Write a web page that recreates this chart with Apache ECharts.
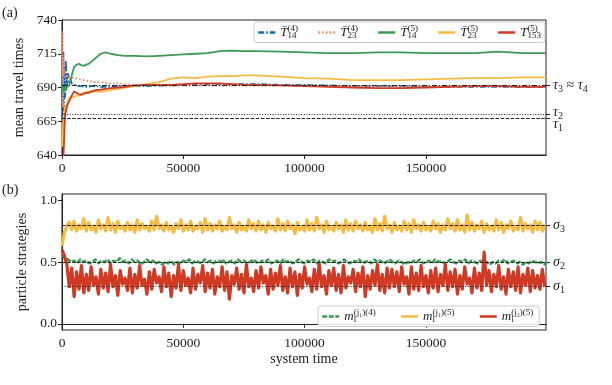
<!DOCTYPE html>
<html>
<head>
<meta charset="utf-8">
<script src="https://cdn.jsdelivr.net/npm/echarts@6.0.0/dist/echarts.min.js"></script>
<style>
  html, body { margin: 0; padding: 0; background: #fff; }
  #chart { width: 612px; height: 385px; }
</style>
</head>
<body>
<div id="chart"></div>
<script>
// (a) running mean travel times
const tTop = [0, 200, 400, 600, 800, 1000, 1300, 1600, 2000, 2500, 3000, 3500, 4000, 5000, 6000, 7000, 8000, 9000, 10000, 11000,
  12000, 14000, 16000, 18000, 20000, 23000, 26000, 30000, 35000, 40000, 45000, 50000, 55000, 60000, 65000, 70000, 75000, 80000,
  90000, 100000, 110000, 120000, 130000, 140000, 150000, 160000, 170000, 180000, 190000, 199500]
const meanB4 = [665, 712, 676, 716, 662, 705, 683, 710, 690, 700, 694, 696, 693, 692, 691.5, 691, 691, 690.5, 690.5, 690.5,
  691, 691, 690.5, 690.5, 691, 691, 691, 691, 691, 691.5, 691.5, 692, 692, 692.5, 692.5, 692.5, 692.5, 692.5, 692, 692,
  691.5, 691, 691, 691, 690.5, 690.5, 690.5, 690.5, 690.5, 690.5]
const meanC4 = [700, 731, 675, 712, 700, 703, 698, 697, 698, 697, 697, 697.5, 697, 697, 696.5, 696, 696, 695.5, 695, 695,
  694.5, 694, 694, 693.5, 693, 693, 692.5, 692, 692, 691.5, 691.5, 691.5, 691.5, 691.5, 691.5, 691.5, 691.5, 691.5, 691.5, 691.5,
  691, 691, 691, 691, 691, 691, 691, 691, 691, 691]
const meanG5 = [690, 686, 692, 688, 690, 688, 690, 688, 690, 689, 692, 695, 699, 705, 707, 707.5, 706.5, 706, 707, 707.5,
  709, 712, 715, 716, 715, 714, 713.5, 713.5, 713, 713.5, 714, 714.5, 715, 715.5, 717, 717.3, 717, 717, 716.5, 716,
  715.5, 715.5, 716, 716, 715.5, 715.5, 715.5, 716.5, 715.5, 715.5]
const meanY5 = [646, 655, 662, 668, 660, 672, 676, 672, 678, 681, 682, 683, 682, 683, 684, 684, 685, 686, 686.5, 687,
  687, 687, 687, 687.5, 688, 689, 690, 691, 692.5, 694, 696.5, 697.5, 697, 698, 698.5, 698.5, 699, 699, 698, 697,
  696.5, 695.5, 695.5, 695.5, 696, 696.5, 697, 697, 697.5, 697.5]
const meanR5 = [630, 625, 635, 640, 648, 660, 670, 672, 676, 678, 680, 682, 684, 687, 686, 685, 684.5, 685.5, 686, 686,
  687, 688, 688.5, 689, 689.5, 690, 690.5, 691.5, 692, 692, 692, 692.5, 693, 693, 693, 692.5, 692, 692, 691.5, 691,
  690.5, 690, 689.5, 689.5, 690, 690.5, 691, 691, 690.5, 690.5]
const tauLevels = [691.5, 670, 667] // tau3~tau4, tau2, tau1

// (b) particle strategies, sampled every tStepG / tStepB
const tStepG = 1250
const stratG4 = [0.56, 0.53, 0.52, 0.50, 0.51, 0.49, 0.52, 0.50, 0.51, 0.49,
  0.50, 0.52, 0.49, 0.51, 0.50, 0.52, 0.49, 0.51, 0.50, 0.53,
  0.50, 0.51, 0.49, 0.52, 0.50, 0.51, 0.48, 0.50, 0.52, 0.49,
  0.51, 0.49, 0.50, 0.48, 0.50, 0.49, 0.51, 0.48, 0.50, 0.49,
  0.51, 0.50, 0.52, 0.49, 0.51, 0.50, 0.49, 0.52, 0.50, 0.51,
  0.49, 0.51, 0.50, 0.52, 0.49, 0.50, 0.51, 0.49, 0.52, 0.50,
  0.51, 0.49, 0.50, 0.52, 0.50, 0.49, 0.51, 0.50, 0.52, 0.49,
  0.50, 0.51, 0.49, 0.52, 0.50, 0.51, 0.49, 0.50, 0.52, 0.50,
  0.49, 0.51, 0.50, 0.52, 0.49, 0.51, 0.50, 0.49, 0.52, 0.50,
  0.51, 0.49, 0.50, 0.52, 0.50, 0.49, 0.51, 0.50, 0.52, 0.49,
  0.50, 0.51, 0.49, 0.52, 0.50, 0.51, 0.49, 0.50, 0.52, 0.50,
  0.49, 0.51, 0.50, 0.48, 0.50, 0.49, 0.51, 0.50, 0.52, 0.49,
  0.50, 0.51, 0.49, 0.52, 0.50, 0.51, 0.49, 0.50, 0.52, 0.50,
  0.49, 0.51, 0.50, 0.52, 0.49, 0.51, 0.50, 0.49, 0.51, 0.49,
  0.50, 0.48, 0.50, 0.49, 0.51, 0.50, 0.52, 0.49, 0.50, 0.51,
  0.49, 0.50, 0.48, 0.50, 0.49, 0.51, 0.50, 0.49, 0.50, 0.48,
  0.50]
const tStepB = 1000
const stratY5 = [0.63, 0.74, 0.79, 0.82, 0.76, 0.83, 0.75, 0.80, 0.77, 0.85,
  0.75, 0.82, 0.76, 0.79, 0.74, 0.84, 0.77, 0.80, 0.75, 0.86,
  0.76, 0.81, 0.74, 0.83, 0.77, 0.79, 0.75, 0.82, 0.76, 0.80,
  0.74, 0.84, 0.76, 0.81, 0.77, 0.79, 0.75, 0.83, 0.76, 0.87,
  0.77, 0.80, 0.75, 0.82, 0.76, 0.79, 0.74, 0.81, 0.77, 0.84,
  0.75, 0.80, 0.76, 0.83, 0.75, 0.79, 0.77, 0.82, 0.74, 0.85,
  0.76, 0.81, 0.75, 0.80, 0.77, 0.83, 0.75, 0.79, 0.76, 0.86,
  0.77, 0.80, 0.74, 0.82, 0.76, 0.79, 0.75, 0.84, 0.77, 0.81,
  0.75, 0.83, 0.76, 0.80, 0.74, 0.82, 0.77, 0.79, 0.75, 0.85,
  0.76, 0.81, 0.75, 0.83, 0.77, 0.80, 0.73, 0.82, 0.76, 0.79,
  0.75, 0.84, 0.76, 0.81, 0.75, 0.86, 0.77, 0.80, 0.74, 0.83,
  0.76, 0.79, 0.75, 0.82, 0.77, 0.80, 0.74, 0.84, 0.76, 0.81,
  0.75, 0.83, 0.77, 0.80, 0.75, 0.82, 0.76, 0.79, 0.74, 0.85,
  0.76, 0.81, 0.75, 0.87, 0.77, 0.80, 0.74, 0.82, 0.76, 0.79,
  0.75, 0.83, 0.76, 0.81, 0.74, 0.84, 0.77, 0.80, 0.75, 0.82,
  0.76, 0.79, 0.75, 0.83, 0.77, 0.81, 0.74, 0.80, 0.76, 0.85,
  0.77, 0.81, 0.75, 0.84, 0.76, 0.80, 0.74, 0.88, 0.76, 0.82,
  0.75, 0.80, 0.77, 0.83, 0.74, 0.81, 0.76, 0.79, 0.75, 0.84,
  0.76, 0.82, 0.74, 0.80, 0.77, 0.83, 0.75, 0.79, 0.76, 0.86,
  0.75, 0.81, 0.77, 0.80, 0.74, 0.83, 0.76, 0.82, 0.75, 0.80]
const stratR5 = [0.60, 0.55, 0.48, 0.30, 0.45, 0.22, 0.42, 0.28, 0.47, 0.25,
  0.40, 0.27, 0.46, 0.31, 0.38, 0.24, 0.44, 0.29, 0.41, 0.26,
  0.48, 0.30, 0.39, 0.23, 0.43, 0.32, 0.37, 0.27, 0.45, 0.25,
  0.40, 0.29, 0.47, 0.31, 0.36, 0.24, 0.42, 0.28, 0.44, 0.33,
  0.38, 0.26, 0.46, 0.30, 0.41, 0.22, 0.39, 0.29, 0.48, 0.27,
  0.43, 0.31, 0.37, 0.25, 0.45, 0.28, 0.40, 0.33, 0.47, 0.26,
  0.41, 0.29, 0.44, 0.24, 0.38, 0.30, 0.46, 0.27, 0.42, 0.20,
  0.39, 0.32, 0.45, 0.28, 0.40, 0.25, 0.48, 0.30, 0.37, 0.26,
  0.43, 0.29, 0.46, 0.33, 0.39, 0.24, 0.44, 0.28, 0.41, 0.31,
  0.47, 0.27, 0.38, 0.25, 0.45, 0.30, 0.42, 0.23, 0.40, 0.29,
  0.46, 0.32, 0.37, 0.26, 0.44, 0.28, 0.49, 0.30, 0.39, 0.24,
  0.43, 0.31, 0.45, 0.27, 0.40, 0.25, 0.47, 0.29, 0.38, 0.33,
  0.44, 0.26, 0.41, 0.30, 0.46, 0.22, 0.39, 0.28, 0.43, 0.31,
  0.48, 0.27, 0.40, 0.25, 0.45, 0.29, 0.44, 0.30, 0.42, 0.26,
  0.46, 0.32, 0.38, 0.24, 0.46, 0.28, 0.41, 0.27, 0.47, 0.30,
  0.39, 0.25, 0.43, 0.29, 0.45, 0.26, 0.40, 0.31, 0.48, 0.27,
  0.42, 0.30, 0.44, 0.24, 0.39, 0.28, 0.46, 0.32, 0.37, 0.25,
  0.45, 0.29, 0.41, 0.27, 0.58, 0.31, 0.43, 0.26, 0.40, 0.30,
  0.47, 0.28, 0.38, 0.24, 0.44, 0.30, 0.42, 0.27, 0.46, 0.25,
  0.40, 0.31, 0.45, 0.26, 0.43, 0.29, 0.39, 0.28, 0.44, 0.30]
const sigmaLevels = [0.8, 0.5, 0.3] // sigma3, sigma2, sigma1

const xTicks = [0, 50000, 100000, 150000]
const yTicksB = [0, 0.5, 1.0]

const SERIF = "'Liberation Serif', 'DejaVu Serif', serif"
const INK = '#222'
const colors = { b4: '#1668b0', c4: '#f58b66', g5: '#3d9a54', y5: '#f6bb3f', r5: '#d03a24' }

const pairs = (xs, ys) => ys.map((v, i) => [xs[i], v])
const tGreen = stratG4.map((_, i) => i * tStepG)
const tBottom = stratY5.map((_, i) => i * tStepB)

const chart = echarts.init(document.getElementById('chart'))

const subSup = {
  t: { fontSize: 13, fontStyle: 'italic', fontFamily: SERIF, color: INK },
  sub0: { fontSize: 9, fontFamily: SERIF, color: INK, width: 0, padding: [7, 0, 0, 0] },
  sub: { fontSize: 9, fontFamily: SERIF, color: INK, padding: [7, 0, 0, 0] },
  sup0: { fontSize: 9, fontFamily: SERIF, color: INK, width: 0, padding: [0, 0, 8, 0] },
  sup: { fontSize: 9, fontFamily: SERIF, color: INK, padding: [0, 0, 8, 0] },
}
const topNames = {
  b4: '{t|T\u0304}{sub0|14}{sup|(4)}',
  c4: '{t|T\u0304}{sub0|23}{sup|(4)}',
  g5: '{t|T\u0304}{sub0|14}{sup|(5)}',
  y5: '{t|T\u0304}{sub0|23}{sup|(5)}',
  r5: '{t|T}{sup0|(5)}{sub|153}',
}
const botNames = {
  g4: '{t|m}{sub0|l}{sup|(j\u2081)(4)}',
  y5b: '{t|m}{sub0|l}{sup|(j\u2081)(5)}',
  r5b: '{t|m}{sub0|l}{sup|(j\u2082)(5)}',
}

const mathRich = {
  s: { fontSize: 14, fontStyle: 'italic', fontFamily: SERIF, color: INK },
  n: { fontSize: 10, fontFamily: SERIF, color: INK, padding: [8, 0, 0, 0] },
  r: { fontSize: 14, fontFamily: SERIF, color: INK },
  su: { fontSize: 14, fontStyle: 'italic', fontFamily: SERIF, color: INK, padding: [0, 0, 5, 0] },
  nu: { fontSize: 10, fontFamily: SERIF, color: INK, padding: [3, 0, 0, 0] },
  sd: { fontSize: 14, fontStyle: 'italic', fontFamily: SERIF, color: INK, padding: [11, 0, 0, 0] },
  nd: { fontSize: 10, fontFamily: SERIF, color: INK, padding: [19, 0, 0, 0] },
}
const tauTexts = ['{s|\u03c4}{n|3}{r| \u2248 }{s|\u03c4}{n|4}', '{su|\u03c4}{nu|2}', '{sd|\u03c4}{nd|1}']
const sigmaLabel = (v) => '{s|\u03c3}{n|' + (3 - sigmaLevels.indexOf(v)) + '}'

const tickFont = { fontFamily: SERIF, fontSize: 13.5, color: INK }

function xAxis(gi, name) {
  return {
    type: 'value', gridIndex: gi, min: 0, max: 199500,
    axisLine: { show: true, lineStyle: { color: INK } },
    axisTick: { show: true, length: 4, customValues: xTicks, lineStyle: { color: INK } },
    axisLabel: { ...tickFont, margin: 6, customValues: xTicks, formatter: (v) => String(v) },
    splitLine: { show: false },
    name: name, nameLocation: 'middle', nameGap: 22,
    nameTextStyle: { fontFamily: SERIF, fontSize: 14, color: INK },
  }
}

// one right-hand axis per reference label so the close ones are not hidden
function rightAxis(gi, min, max, level, text) {
  return {
    type: 'value', gridIndex: gi, position: 'right', min, max,
    axisLine: { show: false },
    axisTick: { show: true, length: 4, customValues: [level], lineStyle: { color: INK } },
    axisLabel: { margin: 7, customValues: [level], formatter: () => text, rich: mathRich, hideOverlap: false },
    splitLine: { show: false },
  }
}

function refLine(level, dash) {
  return { yAxis: level, lineStyle: { color: INK, width: 1, type: dash } }
}

function lineSeries(name, xi, yi, data, color, dash, width) {
  return {
    name, type: 'line', xAxisIndex: xi, yAxisIndex: yi, data,
    symbol: 'none', showSymbol: false, clip: true,
    lineStyle: { color, width, type: dash, join: 'round' }, itemStyle: { color },
  }
}

const legendBase = {
  orient: 'horizontal', itemWidth: 17, itemHeight: 8,
  backgroundColor: 'rgba(255,255,255,0.85)', borderColor: '#ccc', borderWidth: 1, borderRadius: 3,
  lineStyle: { width: 2.5 }, itemStyle: { opacity: 0 },
  textStyle: { fontFamily: SERIF, color: INK, rich: subSup },
}

chart.setOption({
  animation: false,
  grid: [
    { left: 62, right: 66, top: 20, height: 135, show: true, borderColor: INK, borderWidth: 1 },
    { left: 62, right: 66, top: 194, height: 136, show: true, borderColor: INK, borderWidth: 1 },
  ],
  xAxis: [xAxis(0, ''), xAxis(1, 'system time')],
  yAxis: [
    {
      type: 'value', gridIndex: 0, min: 640, max: 740, interval: 25,
      axisLine: { show: true, lineStyle: { color: INK } },
      axisTick: { length: 4, lineStyle: { color: INK } },
      axisLabel: { ...tickFont, margin: 5 },
      splitLine: { show: false },
      name: 'mean travel times', nameLocation: 'middle', nameGap: 30, nameRotate: 90,
      nameTextStyle: { fontFamily: SERIF, fontSize: 14, color: INK },
    },
    rightAxis(0, 640, 740, tauLevels[0], tauTexts[0]),
    rightAxis(0, 640, 740, tauLevels[1], tauTexts[1]),
    rightAxis(0, 640, 740, tauLevels[2], tauTexts[2]),
    {
      type: 'value', gridIndex: 1, min: -0.05, max: 1.05,
      axisLine: { show: true, lineStyle: { color: INK } },
      axisTick: { length: 4, customValues: yTicksB, lineStyle: { color: INK } },
      axisLabel: { ...tickFont, margin: 5, customValues: yTicksB, formatter: (v) => v.toFixed(1) },
      splitLine: { show: false },
      name: 'particle strategies', nameLocation: 'middle', nameGap: 30, nameRotate: 90,
      nameTextStyle: { fontFamily: SERIF, fontSize: 14, color: INK },
    },
    {
      type: 'value', gridIndex: 1, position: 'right', min: -0.05, max: 1.05,
      axisLine: { show: false },
      axisTick: { show: true, length: 4, customValues: sigmaLevels, lineStyle: { color: INK } },
      axisLabel: { margin: 7, customValues: sigmaLevels, formatter: sigmaLabel, rich: mathRich },
      splitLine: { show: false },
    },
  ],
  legend: [
    {
      ...legendBase,
      data: ['b4', 'c4', 'g5', 'y5', 'r5'],
      formatter: (n) => topNames[n],
      left: 254, top: 22, itemGap: 19, padding: [2, 4, 2, 3],
    },
    {
      ...legendBase,
      data: ['g4', 'y5b', 'r5b'],
      formatter: (n) => botNames[n],
      left: 318, top: 306, itemGap: 24, padding: [2, 6, 2, 3],
    },
  ],
  graphic: [
    { type: 'text', left: 2, top: 6, style: { text: '(a)', font: '14px ' + SERIF, fill: INK } },
    { type: 'text', left: 2, top: 183, style: { text: '(b)', font: '14px ' + SERIF, fill: INK } },
  ],
  series: [
    lineSeries('b4', 0, 0, pairs(tTop, meanB4), colors.b4, [6, 2, 1.5, 2], 1.8),
    lineSeries('c4', 0, 0, pairs(tTop, meanC4), colors.c4, [1.6, 2.2], 1.8),
    lineSeries('g5', 0, 0, pairs(tTop, meanG5), colors.g5, 'solid', 1.8),
    lineSeries('y5', 0, 0, pairs(tTop, meanY5), colors.y5, 'solid', 1.8),
    lineSeries('r5', 0, 0, pairs(tTop, meanR5), colors.r5, 'solid', 1.8),
    {
      type: 'line', xAxisIndex: 0, yAxisIndex: 0, data: [], z: 5, silent: true,
      markLine: {
        symbol: 'none', silent: true, label: { show: false },
        data: [refLine(tauLevels[0], [5, 2, 1, 2]), refLine(tauLevels[1], [1, 1.6]), refLine(tauLevels[2], [3.5, 1.6])],
      },
    },
    lineSeries('g4', 1, 4, pairs(tGreen, stratG4), colors.g5, [5, 1.5], 2.6),
    lineSeries('y5b', 1, 4, pairs(tBottom, stratY5), colors.y5, 'solid', 3.2),
    lineSeries('r5b', 1, 4, pairs(tBottom, stratR5), colors.r5, 'solid', 3.2),
    {
      type: 'line', xAxisIndex: 1, yAxisIndex: 4, data: [], z: 5, silent: true,
      markLine: {
        symbol: 'none', silent: true, label: { show: false },
        data: [refLine(sigmaLevels[0], [3.5, 1.6]), refLine(sigmaLevels[1], [3.5, 1.6]), refLine(sigmaLevels[2], [1, 1.6])],
      },
    },
  ],
})
</script>
</body>
</html>
